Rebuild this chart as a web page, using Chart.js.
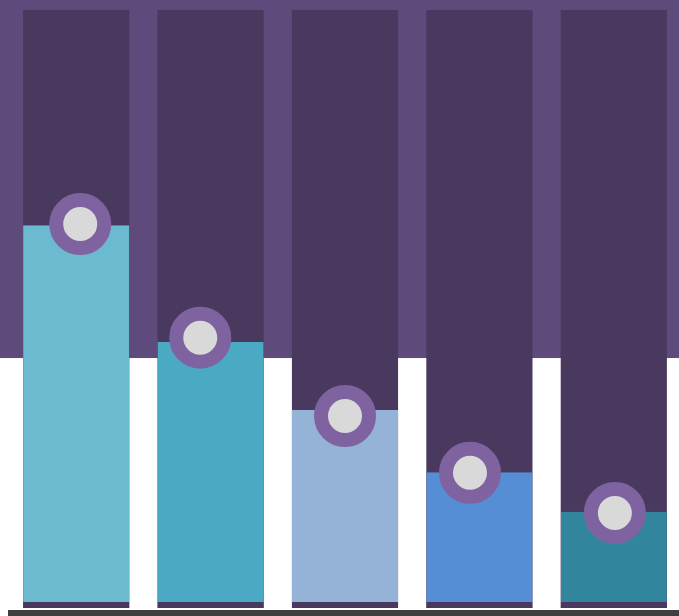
<!DOCTYPE html>
<html>
<head>
<meta charset="utf-8">
<title>Bars</title>
<script src="https://cdn.jsdelivr.net/npm/chart.js@4.4.1/dist/chart.umd.min.js"></script>
<style>
  html, body { margin: 0; padding: 0; background: #ffffff; overflow: hidden; }
  #wrap { width: 681px; height: 616px; position: relative; }
</style>
</head>
<body>
<div id="wrap"><canvas id="myChart"></canvas></div>
<script>
// values
const categories = ["A", "B", "C", "D", "E"];
const barValues = [64.0, 44.5, 33.1, 22.7, 16.1];
const trackValues = [100, 100, 100, 100, 100];
const pointValues = [64.2, 45.2, 32.1, 22.6, 15.9];
const pointShift = [0.03, -0.077, 0, -0.07, 0.008];
const bandLevel = 41.8;

const barColors = ["#6bbad0", "#4aaac4", "#95b3d7", "#558ed5", "#31859c"];

// purple band behind the bars + dark base line
const decorPlugin = {
  id: "decor",
  beforeDatasetsDraw(chart) {
    const { ctx, scales } = chart;
    const yb = scales.y.getPixelForValue(bandLevel);
    ctx.save();
    ctx.fillStyle = "#5f4a7c";
    ctx.fillRect(0, 0, chart.width, yb);
    ctx.restore();
  },
  afterDatasetsDraw(chart) {
    const { ctx, chartArea } = chart;
    ctx.save();
    ctx.fillStyle = "#404040";
    ctx.fillRect(chartArea.left - 1, chartArea.bottom + 2, chart.width, 6);
    ctx.restore();
  }
};

const canvasEl = document.getElementById("myChart");
const myChart = new Chart(canvasEl.getContext("2d"), {
  type: "bar",
  data: {
    labels: categories,
    datasets: [
      {
        type: "scatter",
        data: pointValues.map((v, i) => ({ x: i + pointShift[i], y: v })),
        xAxisID: "x2",
        pointRadius: 24,
        pointHoverRadius: 24,
        pointBorderWidth: 14,
        pointBackgroundColor: "#d9d9d9",
        pointBorderColor: "#7f63a1",
        clip: false,
        order: 0
      },
      {
        data: barValues,
        backgroundColor: barColors,
        borderColor: "#49395f",
        borderWidth: { top: 0, left: 0, right: 0, bottom: 6 },
        borderSkipped: false,
        grouped: false,
        barPercentage: 0.79,
        categoryPercentage: 1,
        order: 1
      },
      {
        data: trackValues,
        backgroundColor: "#49395f",
        borderWidth: 0,
        grouped: false,
        barPercentage: 0.79,
        categoryPercentage: 1,
        order: 2
      }
    ]
  },
  options: {
    responsive: true,
    maintainAspectRatio: false,
    animation: false,
    layout: { autoPadding: false, padding: { top: 10, bottom: 8, left: 9, right: 0 } },
    plugins: { legend: { display: false }, tooltip: { enabled: false } },
    scales: {
      x: { display: false },
      x2: { type: "linear", display: false, offset: false, min: -0.5, max: 4.5 },
      y: { display: false, min: 0, max: 100 }
    }
  },
  plugins: [decorPlugin]
});
</script>
</body>
</html>
